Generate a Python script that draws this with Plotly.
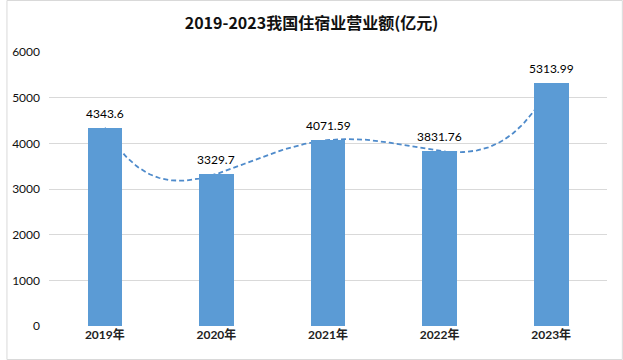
import numpy as np
import plotly.graph_objects as go

categories = ["2019年", "2020年", "2021年", "2022年", "2023年"]
values = [4343.6, 3329.7, 4071.59, 3831.76, 5313.99]
labels = ["4343.6", "3329.7", "4071.59", "3831.76", "5313.99"]
y_ticks = [0, 1000, 2000, 3000, 4000, 5000, 6000]
title_text = "2019-2023我国住宿业营业额(亿元)"

W, H = 623, 360
ML, MR, MT, MB = 43, 16, 52, 34
PW, PH = W - ML - MR, H - MT - MB

xs = np.arange(len(values))
# 4th-order polynomial trendline (as in the source spreadsheet chart)
coef = np.polyfit(xs, values, 4)
xt = np.linspace(xs[0], xs[-1], 200)
yt = np.polyval(coef, xt)

FONT = "Lato, 'Noto Sans CJK SC', sans-serif"

fig = go.Figure()
fig.add_trace(go.Scatter(
    x=xt, y=yt, mode="lines", xaxis="x", yaxis="y",
    line=dict(color="#4F8BCB", width=1.8, dash="5px,3px"),
    hoverinfo="skip", showlegend=False,
))
fig.add_trace(go.Bar(
    x=xs, y=values, xaxis="x2", yaxis="y2",
    width=0.31, marker=dict(color="#5B9BD5", line=dict(width=0)),
    showlegend=False,
))

for xi, v, lab in zip(xs, values, labels):
    fig.add_annotation(x=xi, y=v, xref="x", yref="y", text=lab, showarrow=False,
                       yanchor="bottom", yshift=5,
                       font=dict(family=FONT, size=12, color="#000000"))

fig.update_layout(
    width=W, height=H,
    margin=dict(l=ML, r=MR, t=MT, b=MB),
    paper_bgcolor="white", plot_bgcolor="white",
    font=dict(family=FONT, color="#222222"),
    title=dict(text="<b>" + title_text + "</b>", x=0.5, xanchor="center",
               y=1 - 23 / H, yanchor="middle",
               font=dict(family="'Noto Sans CJK SC', sans-serif", size=16, color="#111111")),
    xaxis=dict(range=[-0.5, 4.5], tickvals=list(xs), ticktext=["<b>" + c + "</b>" for c in categories],
               showgrid=False, zeroline=False, showline=False, ticks="",
               tickfont=dict(family=FONT, size=12, color="#222222")),
    yaxis=dict(range=[0, 6000], tickvals=y_ticks, showgrid=True, gridcolor="#D9D9D9", gridwidth=1,
               zeroline=False, showline=False, ticks="", ticklabelstandoff=8,
               tickfont=dict(family=FONT, size=12, color="#111111")),
    xaxis2=dict(overlaying="x", range=[-0.5, 4.5], visible=False),
    yaxis2=dict(overlaying="y", range=[0, 6000], visible=False),
    bargap=0,
)

# light chart border
fig.add_shape(type="rect", xref="paper", yref="paper",
              x0=(0.5 - ML) / PW, x1=(W - 0.5 - ML) / PW,
              y0=(H - MB - (H - 0.5)) / PH, y1=(H - MB - 0.5) / PH,
              line=dict(color="#D9D9D9", width=1), fillcolor="rgba(0,0,0,0)", layer="above")

fig.write_html("out.html")
